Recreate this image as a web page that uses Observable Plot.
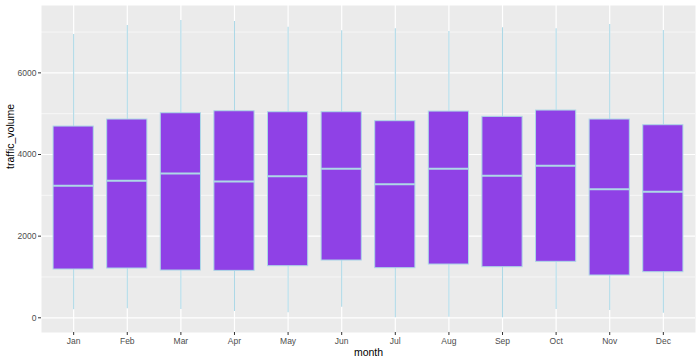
<!DOCTYPE html>
<html>
<head>
<meta charset="utf-8">
<script src="https://cdn.jsdelivr.net/npm/d3@7"></script>
<script src="https://cdn.jsdelivr.net/npm/@observablehq/plot@0.6"></script>
<style>
  html, body { margin: 0; padding: 0; background: #fff; }
  #chart svg { display: block; }
</style>
</head>
<body>
<div id="chart"></div>
<script>
const months = ["Jan","Feb","Mar","Apr","May","Jun","Jul","Aug","Sep","Oct","Nov","Dec"];
const whiskerLow  = [196, 220, 203, 154, 122, 261, 0, 15, 0, 203, 179, 114];
const q1          = [1183, 1207, 1158, 1150, 1264, 1403, 1215, 1305, 1240, 1371, 1036, 1117];
const median      = [3233, 3355, 3534, 3338, 3469, 3649, 3273, 3649, 3477, 3722, 3150, 3086];
const q3          = [4685, 4857, 5011, 5060, 5036, 5036, 4816, 5052, 4922, 5077, 4857, 4718];
const whiskerHigh = [6939, 7159, 7282, 7257, 7118, 7029, 7078, 7012, 7102, 7078, 7184, 7037];
const yTicks = [0, 2000, 4000, 6000];
const yMinor = [1000, 3000, 5000, 7000];

const data = months.map((m, i) => ({
  month: m, lo: whiskerLow[i], q1: q1[i], med: median[i], q3: q3[i], hi: whiskerHigh[i]
}));

const font = "'Liberation Sans', Arial, Helvetica, sans-serif";

const chart = Plot.plot({
  width: 700,
  height: 362,
  marginLeft: 41,
  marginRight: 5,
  marginTop: 5,
  marginBottom: 30,
  style: { fontFamily: font, background: "#ffffff" },
  x: { type: "band", domain: months, paddingInner: 0.25, paddingOuter: 0.225, round: false, label: null, align: 0.5 },
  y: { domain: [-360, 7650], label: null },
  marks: [
    Plot.frame({ fill: "#EBEBEB", stroke: null }),
    Plot.ruleY(yMinor, { stroke: "#ffffff", strokeWidth: 0.6 }),
    Plot.ruleY(yTicks, { stroke: "#ffffff", strokeWidth: 1.2 }),
    Plot.ruleX(months, { x: d => d, stroke: "#ffffff", strokeWidth: 1.2 }),
    Plot.ruleX(data, { x: "month", y1: "lo", y2: "hi", stroke: "#ADD8E6", strokeWidth: 1.1 }),
    Plot.barY(data, { x: "month", y1: "q1", y2: "q3", fill: "#8F41E6", stroke: "#ADD8E6", strokeWidth: 1 }),
    Plot.tickY(data, { x: "month", y: "med", stroke: "#ADD8E6", strokeWidth: 2 }),
    Plot.axisY(yTicks, { tickSize: 3, tickPadding: 2, fontSize: 8.5, color: "#4D4D4D", stroke: "#333333", tickFormat: d3.format("d"), label: null }),
    Plot.axisX({ tickSize: 3, tickPadding: 2, fontSize: 8.5, color: "#4D4D4D", stroke: "#333333", label: null }),
    Plot.text(["month"], { frameAnchor: "bottom", dy: 20, fontSize: 10.5, fill: "#000000", lineAnchor: "middle" }),
    Plot.text(["traffic_volume"], { frameAnchor: "left", dx: -31, rotate: -90, fontSize: 10.5, fill: "#000000" })
  ]
});
document.getElementById("chart").appendChild(chart);
</script>
</body>
</html>
